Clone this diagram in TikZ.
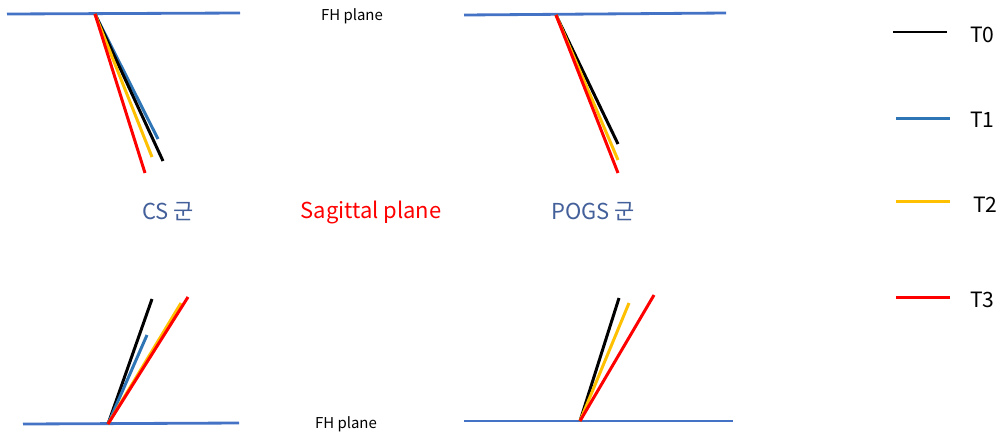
\documentclass[tikz,border=0pt]{standalone}
\usepackage{fontspec}
\setmainfont{Noto Sans CJK KR}
\definecolor{planeblue}{HTML}{4472C4}
\definecolor{tblue}{HTML}{2E75B6}
\definecolor{tyellow}{HTML}{FFC000}
\definecolor{tred}{HTML}{FF0000}
\definecolor{grouptext}{HTML}{44609A}
\begin{document}
\begin{tikzpicture}[x=0.02cm,y=-0.02cm,
  plane/.style={draw=planeblue,line width=1.6pt},
  seg/.style={line width=1.7pt},
  lbl/.style={inner sep=0pt,font=\fontsize{12.5}{14}\selectfont},
  small/.style={inner sep=0pt,font=\fontsize{8.5}{10}\selectfont},
  leg/.style={inner sep=0pt,font=\fontsize{12}{14}\selectfont,anchor=west}]
\useasboundingbox (0,0) rectangle (1003,437);
% top-left (CS)
\coordinate (a1) at (7,14); \coordinate (a2) at (240,13);
\coordinate (ap) at (95,14);
\coordinate (ab) at (158,139); \coordinate (ak) at (163,161);
\coordinate (ay) at (152,157); \coordinate (ar) at (145,173);
\draw[plane] (a1) -- (a2);
\draw[seg,tblue] (ap) -- (ab);
\draw[seg,black] (ap) -- (ak);
\draw[seg,tyellow] (ap) -- (ay);
\draw[seg,tred] (ap) -- (ar);
% top-right (POGS)
\coordinate (b1) at (464,15); \coordinate (b2) at (726,13);
\coordinate (bp) at (556,15);
\coordinate (bk) at (618,144); \coordinate (by) at (618,160); \coordinate (br) at (618,173);
\draw[plane] (b1) -- (b2);
\draw[seg,black] (bp) -- (bk);
\draw[seg,tyellow] (bp) -- (by);
\draw[seg,tred] (bp) -- (br);
% bottom-left (CS)
\coordinate (c1) at (23,424); \coordinate (c2) at (239,423);
\coordinate (cp) at (108,424);
\coordinate (ck) at (152,299); \coordinate (cb) at (147,335);
\coordinate (cy) at (181,303); \coordinate (cr) at (188,297);
\draw[plane] (c1) -- (c2);
\draw[seg,black] (cp) -- (ck);
\draw[seg,tblue] (cp) -- (cb);
\draw[seg,tyellow] (cp) -- (cy);
\draw[seg,tred] (cp) -- (cr);
% bottom-right (POGS)
\coordinate (d1) at (464,421); \coordinate (d2) at (733,421);
\coordinate (dp) at (580,421);
\coordinate (dk) at (619,298); \coordinate (dy) at (629,303); \coordinate (dr) at (654,295);
\draw[plane] (d1) -- (d2);
\draw[seg,black] (dp) -- (dk);
\draw[seg,tyellow] (dp) -- (dy);
\draw[seg,tred] (dp) -- (dr);
% labels
\node[small] (fh1) at (352,16) {FH plane};
\node[small] (fh2) at (346,424) {FH plane};
\node[lbl,text=grouptext] (cs) at (168,212) {CS 군};
\node[lbl,text=tred] (sag) at (371,212) {Sagittal plane};
\node[lbl,text=grouptext] (pogs) at (593,212) {POGS 군};
% legend
\coordinate (l0a) at (893,32); \coordinate (l0b) at (947,32);
\coordinate (l1a) at (896,118); \coordinate (l1b) at (950,118);
\coordinate (l2a) at (896,201); \coordinate (l2b) at (950,201);
\coordinate (l3a) at (896,297); \coordinate (l3b) at (950,297);
\draw[seg,black] (l0a) -- (l0b);
\draw[seg,tblue] (l1a) -- (l1b);
\draw[seg,tyellow] (l2a) -- (l2b);
\draw[seg,tred] (l3a) -- (l3b);
\node[leg] (t0) at (970,35) {T0};
\node[leg] (t1) at (970,120) {T1};
\node[leg] (t2) at (973,205) {T2};
\node[leg] (t3) at (970,300) {T3};
\end{tikzpicture}
\end{document}
